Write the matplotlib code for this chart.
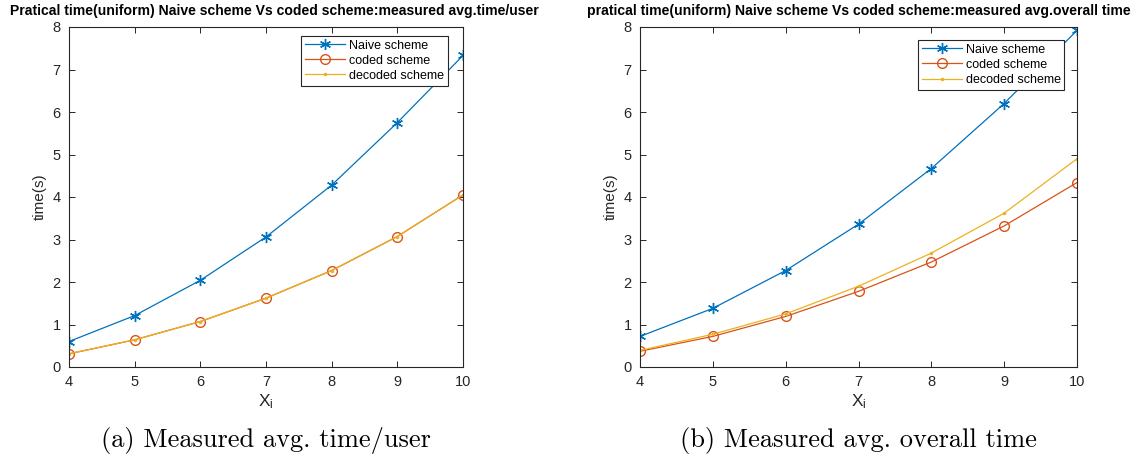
import matplotlib.pyplot as plt
import numpy as np

plt.rcParams['font.family'] = ['Liberation Sans', 'DejaVu Sans']
plt.rcParams['axes.unicode_minus'] = False

x = [4, 5, 6, 7, 8, 9, 10]

# (a) measured avg. time/user
naive_a = [0.60, 1.21, 2.04, 3.06, 4.28, 5.75, 7.33]
coded_a = [0.31, 0.64, 1.07, 1.62, 2.27, 3.07, 4.05]
decoded_a = [0.31, 0.64, 1.07, 1.62, 2.27, 3.07, 4.05]

# (b) measured avg. overall time
naive_b = [0.72, 1.38, 2.27, 3.36, 4.67, 6.20, 7.92]
coded_b = [0.37, 0.72, 1.19, 1.78, 2.47, 3.32, 4.34]
decoded_b = [0.39, 0.77, 1.25, 1.90, 2.68, 3.62, 4.90]

titles = ["Pratical time(uniform) Naive scheme Vs coded scheme:measured avg.time/user",
          "pratical time(uniform) Naive scheme Vs coded scheme:measured avg.overall time"]
captions = ["(a) Measured avg. time/user", "(b) Measured avg. overall time"]
labels = ["Naive scheme", "coded scheme", "decoded scheme"]

blue = '#0072BD'
orange = '#D95319'
yellow = '#EDB120'
dark = '#262626'

fig = plt.figure(figsize=(11.38, 4.68), dpi=100)
ax1 = fig.add_axes([69/1138, 1-367/468, 394/1138, 340/468])
ax2 = fig.add_axes([640/1138, 1-367/468, 437/1138, 340/468])

data = [(naive_a, coded_a, decoded_a), (naive_b, coded_b, decoded_b)]
leg_anchor = [(0.961, 0.974), (0.971, 0.962)]
title_x = [0.52, 0.5]

for i, ax in enumerate([ax1, ax2]):
    naive, coded, decoded = data[i]
    ax.plot(x, naive, color=blue, marker=(6, 2, 0), markersize=8, mew=1.0, lw=0.9, label=labels[0])
    ax.plot(x, coded, color=orange, marker='o', markersize=7, mfc='none', lw=0.9, label=labels[1])
    ax.plot(x, decoded, color=yellow, marker='.', markersize=3, lw=0.9, label=labels[2])
    ax.set_xlim(4, 10)
    ax.set_ylim(0, 8)
    ax.set_xticks(x)
    ax.set_yticks(range(0, 9))
    ax.tick_params(direction='in', top=True, right=True, colors=dark, labelsize=10.5,
                   length=4, width=0.7, pad=6)
    for sp in ax.spines.values():
        sp.set_color(dark)
        sp.set_linewidth(0.8)
    ax.set_ylabel("time(s)", fontsize=11, color=dark, labelpad=4)
    ax.set_xlabel(r"$\mathregular{X_i}$", fontsize=12.5, color=dark, labelpad=2)
    ax.set_title(titles[i], fontsize=10.1, fontweight='bold', pad=9, x=title_x[i])
    leg = ax.legend(loc='upper right', bbox_to_anchor=leg_anchor[i], fontsize=9,
                    fancybox=False, edgecolor=dark, framealpha=1, handlelength=3.2,
                    borderpad=0.3, labelspacing=0.25, handletextpad=0.3, borderaxespad=0)
    leg.get_frame().set_linewidth(0.8)

fig.text((69+463)/2/1138, 1-440/468, captions[0], fontsize=19, family='cmr10',
         ha='center', va='center')
fig.text((640+1077)/2/1138, 1-440/468, captions[1], fontsize=19, family='cmr10',
         ha='center', va='center')

fig.savefig('out.png', dpi=100)
